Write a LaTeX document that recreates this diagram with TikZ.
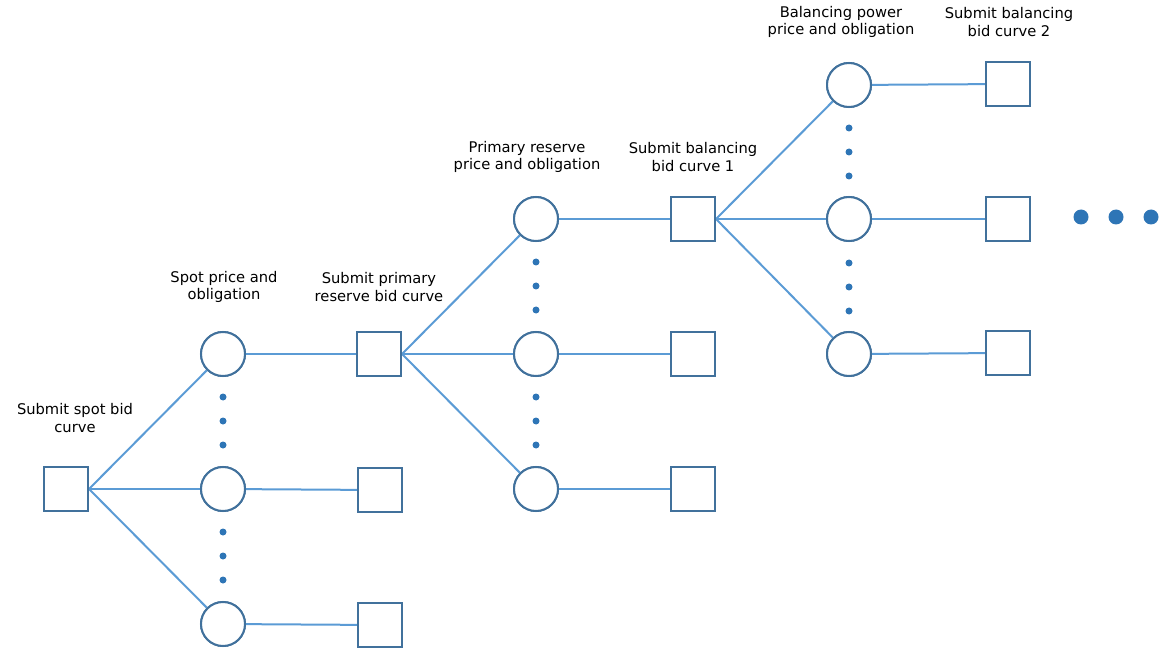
\documentclass[tikz,border=0pt]{standalone}
\usepackage{fontspec}
\setmainfont{DejaVu Sans}
\begin{document}
\begin{tikzpicture}[x=1pt,y=-1pt,
  link/.style={draw=linkblue,line width=2pt},
  decision/.style={draw=nodeblue,line width=2pt,fill=white,minimum size=44pt,inner sep=0pt},
  chance/.style={circle,draw=nodeblue,line width=2pt,fill=white,minimum size=44pt,inner sep=0pt},
  dot/.style={circle,fill=dotblue,inner sep=0pt,minimum size=7pt},
  bigdot/.style={circle,fill=dotblue,inner sep=0pt,minimum size=15pt},
  lbl/.style={align=center,font=\fontsize{14.7}{17.5}\selectfont,text=black}]
\definecolor{linkblue}{HTML}{5B9BD5}
\definecolor{nodeblue}{HTML}{41719C}
\definecolor{dotblue}{HTML}{2E75B6}
\useasboundingbox (0,0) rectangle (1159,652);

% stage 1: spot market
\node[decision] (s0) at (66,489) {};
\node[chance] (c11) at (223,354) {};
\node[chance] (c12) at (223,489) {};
\node[chance] (c13) at (223,624) {};
\node[decision] (s11) at (379,354) {};
\node[decision] (s12) at (380,490) {};
\node[decision] (s13) at (380,625) {};

% stage 2: primary reserve
\node[chance] (c21) at (536,219) {};
\node[chance] (c22) at (536,354) {};
\node[chance] (c23) at (536,489) {};
\node[decision] (s21) at (693,219) {};
\node[decision] (s22) at (693,354) {};
\node[decision] (s23) at (693,489) {};

% stage 3: balancing power
\node[chance] (c31) at (849,85) {};
\node[chance] (c32) at (849,219) {};
\node[chance] (c33) at (849,354) {};
\node[decision] (s31) at (1008,84) {};
\node[decision] (s32) at (1008,219) {};
\node[decision] (s33) at (1008,353) {};

% connectors
\draw[link] (s0.east) -- (c11);
\draw[link] (s0.east) -- (c12);
\draw[link] (s0.east) -- (c13);
\draw[link] (c11) -- (s11);
\draw[link] (c12) -- (s12);
\draw[link] (c13) -- (s13);
\draw[link] (s11.east) -- (c21);
\draw[link] (s11.east) -- (c22);
\draw[link] (s11.east) -- (c23);
\draw[link] (c21) -- (s21);
\draw[link] (c22) -- (s22);
\draw[link] (c23) -- (s23);
\draw[link] (s21.east) -- (c31);
\draw[link] (s21.east) -- (c32);
\draw[link] (s21.east) -- (c33);
\draw[link] (c31) -- (s31);
\draw[link] (c32) -- (s32);
\draw[link] (c33) -- (s33);

% redraw node outlines on top of the connectors
\foreach \n in {s0,s11,s12,s13,s21,s22,s23,s31,s32,s33}
  \node[decision] at (\n) {};
\foreach \n in {c11,c12,c13,c21,c22,c23,c31,c32,c33}
  \node[chance] at (\n) {};

% omitted branches
\foreach \x/\y in {223/397,223/421,223/445,223/532,223/556,223/580,
                   536/262,536/286,536/310,536/397,536/421,536/445,
                   849/128,849/152,849/176,849/263,849/287,849/311}
  \node[dot] at (\x,\y) {};
\node[bigdot] (e1) at (1081,217) {};
\node[bigdot] (e2) at (1116,217) {};
\node[bigdot] (e3) at (1151,217) {};

% labels
\node[lbl] (l0) at (75,418) {Submit spot bid\\curve};
\node[lbl] (l1) at (224,287) {Spot price and\\obligation};
\node[lbl] (l2) at (379,287) {Submit primary\\reserve bid curve};
\node[lbl] (l3) at (527,157) {Primary reserve\\price and obligation};
\node[lbl] (l4) at (693,157) {Submit balancing\\bid curve 1};
\node[lbl] (l5) at (841,22) {Balancing power\\price and obligation};
\node[lbl] (l6) at (1009,22) {Submit balancing\\bid curve 2};
\end{tikzpicture}
\end{document}
